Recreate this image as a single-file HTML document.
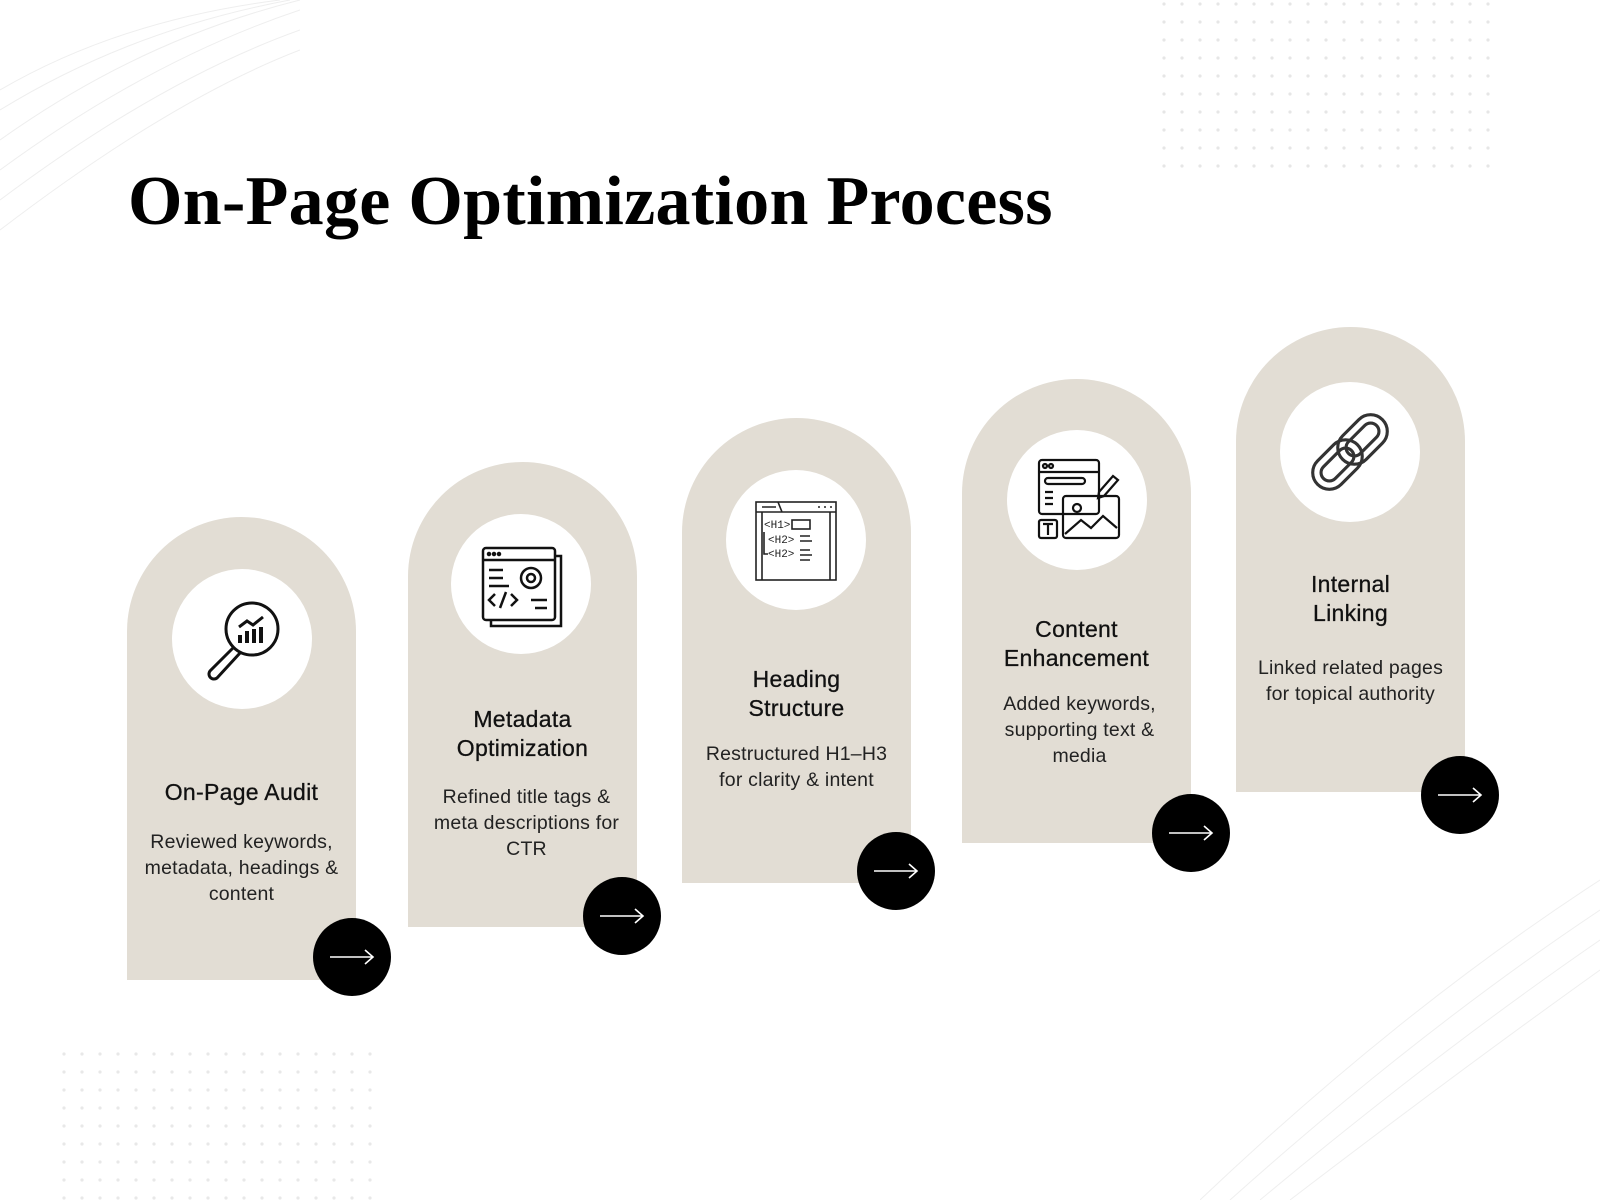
<!DOCTYPE html>
<html><head><meta charset="utf-8"><style>
body{margin:0;width:1600px;height:1200px;background:#fff;position:relative;overflow:hidden;font-family:"Liberation Sans",sans-serif;color:#111}
.t{position:absolute;left:128px;top:162px;font-family:"Liberation Serif",serif;font-weight:bold;font-size:70px;color:#000;white-space:nowrap;letter-spacing:0.3px}
.card{position:absolute;width:229px;background:#e2ddd4;border-radius:115px 115px 0 0}
.wc{position:absolute;width:140px;height:140px;border-radius:50%;background:#fff;display:flex;align-items:center;justify-content:center}
.bc{position:absolute;width:78px;height:78px;border-radius:50%;background:#000;display:flex;align-items:center;justify-content:center}
.h{position:absolute;width:229px;text-align:center;font-size:23px;line-height:29px;color:#111;letter-spacing:0.3px;-webkit-text-stroke:0.3px #111}
.d{position:absolute;width:229px;text-align:center;font-size:19.5px;line-height:26px;color:#222;letter-spacing:0.2px;white-space:nowrap}
</style></head><body>
<svg style="position:absolute;left:0;top:0" width="300" height="240"><g fill="none" stroke="#eee" stroke-width="1">
<path d="M0 90 Q120 20 280 0"/><path d="M0 110 Q130 30 290 0"/><path d="M0 140 Q140 40 300 0"/><path d="M0 170 Q150 60 300 10"/><path d="M0 200 Q160 80 300 30"/><path d="M0 230 Q170 100 300 50"/></g></svg>
<svg style="position:absolute;left:1160px;top:0" width="330" height="180"><defs><pattern id="p" width="18" height="18" patternUnits="userSpaceOnUse"><circle cx="4" cy="4" r="1.6" fill="#e6e6e6"/></pattern></defs><rect width="330" height="180" fill="url(#p)"/></svg>
<svg style="position:absolute;left:60px;top:1050px" width="320" height="150"><defs><pattern id="q" width="18" height="18" patternUnits="userSpaceOnUse"><circle cx="4" cy="4" r="1.6" fill="#e8e8e8"/></pattern></defs><rect width="320" height="150" fill="url(#q)"/></svg>
<svg style="position:absolute;left:1200px;top:860px" width="400" height="340"><g fill="none" stroke="#efefef"><path d="M0 340 Q200 150 400 20"/><path d="M30 340 Q220 170 400 50"/><path d="M60 340 Q240 190 400 80"/><path d="M90 340 Q260 210 400 110"/></g></svg>
<div class="t">On-Page Optimization Process</div>

<div class="card" style="left:127px;top:517px;height:463px"></div>
<div class="wc" style="left:172px;top:569px"><svg width="96" height="96" viewBox="0 0 96 96" fill="none" stroke="#111" stroke-width="3"><circle cx="58" cy="38" r="26"/><path d="M40 56 L16 80 a5 5 0 0 0 7 7 L46 62"/><path d="M46 44v8M53 40v12M60 38v14M67 36v16" stroke-width="4"/><path d="M45 36 l8-6 6 4 10-8"/></svg></div>
<div class="h" style="left:127px;top:778px">On-Page Audit</div>
<div class="d" style="left:127px;top:829px">Reviewed keywords,<br>metadata, headings &amp;<br>content</div>

<div class="card" style="left:408px;top:462px;height:465px"></div>
<div class="wc" style="left:451px;top:514px"><svg width="96" height="96" viewBox="0 0 96 96" fill="none" stroke="#111" stroke-width="2.5"><rect x="10" y="12" width="72" height="72" rx="3"/><path d="M82 20h6v70H18v-6"/><path d="M10 24h72"/><circle cx="16" cy="18" r="1" fill="#111"/><circle cx="21" cy="18" r="1" fill="#111"/><circle cx="26" cy="18" r="1" fill="#111"/><path d="M16 34h14M16 42h14M16 50h20"/><circle cx="58" cy="42" r="10"/><circle cx="58" cy="42" r="4"/><path d="M22 70l-6-6 6-6M38 58l6 6-6 6M33 56l-6 16M58 64h16M62 72h12"/></svg></div>
<div class="h" style="left:408px;top:705px">Metadata<br>Optimization</div>
<div class="d" style="left:412px;top:784px">Refined title tags &amp;<br>meta descriptions for<br>CTR</div>

<div class="card" style="left:682px;top:418px;height:465px"></div>
<div class="wc" style="left:726px;top:470px"><svg width="96" height="96" viewBox="0 0 96 96" fill="none" stroke="#222" stroke-width="1.6"><rect x="8" y="10" width="80" height="78"/><path d="M8 20h80M14 15h14M30 10l4 10M70 15h2M76 15h2M82 15h2M14 20v68M82 20v68"/><text x="16" y="36" font-size="11" fill="#222" stroke="none" font-family="Liberation Mono">&lt;H1&gt;</text><rect x="44" y="28" width="18" height="9"/><text x="20" y="51" font-size="11" fill="#222" stroke="none" font-family="Liberation Mono">&lt;H2&gt;</text><text x="20" y="65" font-size="11" fill="#222" stroke="none" font-family="Liberation Mono">&lt;H2&gt;</text><path d="M16 40v22h4M52 44h10M52 49h12M52 58h10M52 63h12M52 68h10"/></svg></div>
<div class="h" style="left:682px;top:665px">Heading<br>Structure</div>
<div class="d" style="left:682px;top:741px">Restructured H1–H3<br>for clarity &amp; intent</div>

<div class="card" style="left:962px;top:379px;height:464px"></div>
<div class="wc" style="left:1007px;top:430px"><svg width="96" height="96" viewBox="0 0 96 96" fill="none" stroke="#111" stroke-width="2.2"><rect x="10" y="8" width="60" height="54" rx="3"/><path d="M10 20h60"/><circle cx="16" cy="14" r="2"/><circle cx="22" cy="14" r="2"/><rect x="16" y="26" width="40" height="6" rx="3"/><path d="M16 40h8M16 46h8M16 52h8"/><rect x="34" y="44" width="56" height="42" rx="3"/><circle cx="48" cy="56" r="4"/><path d="M36 82l16-14 10 8 12-12 14 12"/><path d="M70 40l14-16 5 4-14 16-6 2z"/><rect x="10" y="68" width="18" height="18" rx="2"/><path d="M14 72h10M19 72v11"/></svg></div>
<div class="h" style="left:962px;top:615px">Content<br>Enhancement</div>
<div class="d" style="left:965px;top:691px">Added keywords,<br>supporting text &amp;<br>media</div>

<div class="card" style="left:1236px;top:327px;height:465px"></div>
<div class="wc" style="left:1280px;top:382px"><svg width="100" height="100" viewBox="0 0 96 96" fill="none" stroke="#333" stroke-width="3"><g transform="rotate(-45 48 48)"><rect x="4" y="32" width="54" height="32" rx="16"/><rect x="12" y="40" width="38" height="16" rx="8"/><rect x="38" y="32" width="54" height="32" rx="16"/><rect x="46" y="40" width="38" height="16" rx="8"/></g></svg></div>
<div class="h" style="left:1236px;top:570px">Internal<br>Linking</div>
<div class="d" style="left:1236px;top:655px">Linked related pages<br>for topical authority</div>

<div class="bc" style="left:313px;top:918px"><svg width="46" height="16"><path d="M1 8h43M36 1l8 7-8 7" stroke="#fff" stroke-width="1.6" fill="none"/></svg></div>
<div class="bc" style="left:583px;top:877px"><svg width="46" height="16"><path d="M1 8h43M36 1l8 7-8 7" stroke="#fff" stroke-width="1.6" fill="none"/></svg></div>
<div class="bc" style="left:857px;top:832px"><svg width="46" height="16"><path d="M1 8h43M36 1l8 7-8 7" stroke="#fff" stroke-width="1.6" fill="none"/></svg></div>
<div class="bc" style="left:1152px;top:794px"><svg width="46" height="16"><path d="M1 8h43M36 1l8 7-8 7" stroke="#fff" stroke-width="1.6" fill="none"/></svg></div>
<div class="bc" style="left:1421px;top:756px"><svg width="46" height="16"><path d="M1 8h43M36 1l8 7-8 7" stroke="#fff" stroke-width="1.6" fill="none"/></svg></div>
</body></html>
